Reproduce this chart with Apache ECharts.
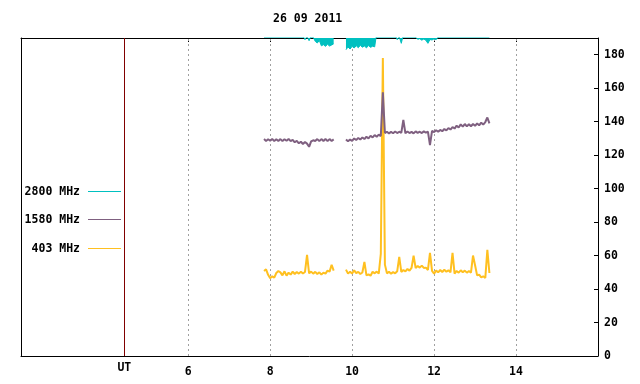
<!DOCTYPE html>
<html><head><meta charset="utf-8">
<script src="https://cdn.jsdelivr.net/npm/echarts@6/dist/echarts.min.js"></script>
<style>html,body{margin:0;padding:0;background:#fff}#c{width:640px;height:384px}</style>
</head><body><div id="c"></div>
<script>
const titleText = '26 09 2011';
const seriesNames = ['2800 MHz', '1580 MHz', '403 MHz'];
const seriesColors = ['#00c0c0', '#7f6080', '#ffc020'];
const xTicks = [6, 8, 10, 12, 14];
const utLabel = 'UT';
const utPos = 4.44;
const xMin = 1.92, xMax = 16;
const yMin = 0, yMax = 190, yStep = 20;
const step = 0.05;
const startA = 7.85, startB = 9.85, gapAt = 9.7;

const mhz2800A = [195,198,194,197,193,196,199,194,197,195,198,193,196,194,197,195,192,196,193,191.5,189.0,191.0,188.4,191.5,190.5,188.0,187.0,188.5,185.3,186.0,185.0,186.2,185.2,185.8,186.5];
const mhz2800B = [183.0,184.6,183.4,185.0,184.0,185.4,184.2,185.6,184.5,185.2,184.1,185.5,184.4,185.1,184.7,
  193,196,198,194,197,195,199,193,196,192,
  189.0,190.8,186.8,
  192,196,194,198,195,193,190.5,
  189.2,189.6,188.7,189.4,188.6,186.8,189.1,188.8,189.5,189.0,190.6,
  194,197,195,199,193,196,198,194,197,195,199,193,196,198,194,197,195,199,193,196,198,194,197,195,198];

const mhz1580A = [129.6,128.5,129.5,128.6,129.7,128.4,129.5,128.5,129.6,128.4,129.5,128.6,129.7,128.4,
  129.2,127.7,128.6,127.1,128.0,126.7,127.9,126.9,
  125.0,
  128.2,128.9,128.5,129.6,128.4,129.6,128.5,129.7,128.4,129.6,128.5,129.4];
const mhz1580B = [129.4,128.3,129.3,128.5,
  130.0,129.0,130.3,129.3,130.6,129.6,
  131.0,130.0,131.6,130.6,132.0,131.0,132.3,131.4,
  157.5,
  133.2,134.0,133.0,133.9,133.1,134.1,133.2,134.0,133.3,
  141.0,
  133.1,134.1,133.2,133.9,133.0,134.2,133.3,134.0,133.2,134.2,133.4,134.1,
  126.0,
  134.5,133.8,134.9,134.0,135.1,134.3,135.6,134.8,136.2,135.3,136.8,135.9,137.6,136.5,138.4,137.0,138.6,137.2,138.5,137.3,138.6,137.5,138.9,137.8,139.4,138.3,139.8,
  142.5,139.0];

const mhz403A = [50.8,51.8,48.5,46.5,47.6,46.8,49.6,50.8,50.0,48.2,50.6,48.0,49.8,48.6,
  50.4,49.0,50.2,49.2,50.4,49.3,50.2,
  60.4,
  49.4,50.4,49.2,50.3,49.0,50.0,48.6,49.8,49.2,51.0,50.4,54.5,51.0];
const mhz403B = [51.6,49.2,50.4,49.3,51.2,49.5,50.3,49.0,49.9,
  56.2,
  48.2,48.8,48.0,50.3,49.4,50.4,49.2,
  61.0,178.0,54.6,
  49.4,50.3,49.2,50.1,49.4,50.6,
  59.2,
  50.2,51.4,50.6,52.0,51.0,52.6,
  60.0,
  52.6,53.8,52.8,54.0,52.6,52.8,51.4,
  61.6,
  50.8,49.2,51.0,50.0,51.4,50.2,51.5,50.4,51.2,50.0,
  61.6,
  49.2,50.8,49.8,51.2,50.0,51.0,49.8,50.8,49.8,
  60.0,54.2,
  48.2,48.6,47.0,47.6,46.6,
  63.5,49.6];

function build(a, b) {
  const out = [];
  a.forEach((v, i) => out.push([+(startA + i * step).toFixed(3), v]));
  out.push([gapAt, null]);
  b.forEach((v, i) => out.push([+(startB + i * step).toFixed(3), v]));
  return out;
}

const FONT = '"DejaVu Sans Mono", "Liberation Mono", monospace';
const FS = 11.5;
const txt = { color: '#000', fontFamily: FONT, fontWeight: 'bold', fontSize: FS };
const fontCss = 'bold ' + FS + 'px ' + FONT;

const chart = echarts.init(document.getElementById('c'), null, { renderer: 'canvas' });

const legendRows = [191.5, 219.5, 248.5];
const legendGraphics = [];
seriesNames.forEach((n, i) => {
  const yc = legendRows[i];
  legendGraphics.push({ type: 'text', x: 80, y: yc + 1, style: { text: n, fill: '#000', font: fontCss, align: 'right', verticalAlign: 'middle' } });
  legendGraphics.push({ type: 'line', shape: { x1: 88, y1: yc, x2: 121, y2: yc }, style: { stroke: seriesColors[i], lineWidth: 1 } });
});

const axisLine = { show: true, onZero: false, lineStyle: { color: '#000', width: 1 } };

chart.setOption({
  animation: false,
  title: { text: titleText, left: 268, top: 8, textStyle: txt },
  grid: { left: 21, right: 42, top: 38, bottom: 28 },
  xAxis: [
    { type: 'value', min: xMin, max: xMax, position: 'bottom', axisLine: axisLine,
      axisTick: { show: false }, splitLine: { show: false },
      axisLabel: Object.assign({ customValues: xTicks, margin: 10 }, txt) },
    { type: 'value', min: xMin, max: xMax, position: 'top', axisLine: axisLine,
      axisTick: { show: true, inside: true, length: 4, customValues: xTicks, lineStyle: { color: '#000' } },
      axisLabel: { show: false }, splitLine: { show: false } }
  ],
  yAxis: [
    { type: 'value', min: yMin, max: yMax, interval: yStep, position: 'right', axisLine: axisLine,
      axisTick: { show: true, inside: true, length: 4, lineStyle: { color: '#000' } },
      axisLabel: Object.assign({ margin: 6, showMaxLabel: false, padding: [4, 0, 0, 0] }, txt), splitLine: { show: false } },
    { type: 'value', min: yMin, max: yMax, position: 'left', axisLine: axisLine,
      axisTick: { show: false }, axisLabel: { show: false }, splitLine: { show: false } }
  ],
  graphic: legendGraphics.concat([
    { type: 'text', x: 124.3, y: 368, style: { text: utLabel, fill: '#000', font: fontCss, align: 'center', verticalAlign: 'middle' } }
  ]),
  series: [
    { name: seriesNames[2], type: 'line', data: build(mhz403A, mhz403B), symbol: 'none', clip: true, z: 2,
      lineStyle: { width: 2, color: seriesColors[2] }, itemStyle: { color: seriesColors[2] },
      markLine: { silent: true, z: 1, symbol: ['none', 'none'], label: { show: false }, animation: false,
        lineStyle: { type: [2, 3], color: '#a0a0a0', width: 1 },
        data: xTicks.map(v => ({ xAxis: v })).concat([{ xAxis: utPos, lineStyle: { type: 'solid', color: '#800000', width: 1 } }]) } },
    { name: seriesNames[1], type: 'line', data: build(mhz1580A, mhz1580B), symbol: 'none', clip: true, z: 3,
      lineStyle: { width: 2, color: seriesColors[1] }, itemStyle: { color: seriesColors[1] } },
    { name: seriesNames[0], type: 'line', data: build(mhz2800A, mhz2800B), symbol: 'none', clip: true, z: 4,
      lineStyle: { width: 1, color: seriesColors[0] }, itemStyle: { color: seriesColors[0] },
      areaStyle: { origin: 'end', color: seriesColors[0], opacity: 1 } }
  ]
});
</script></body></html>
